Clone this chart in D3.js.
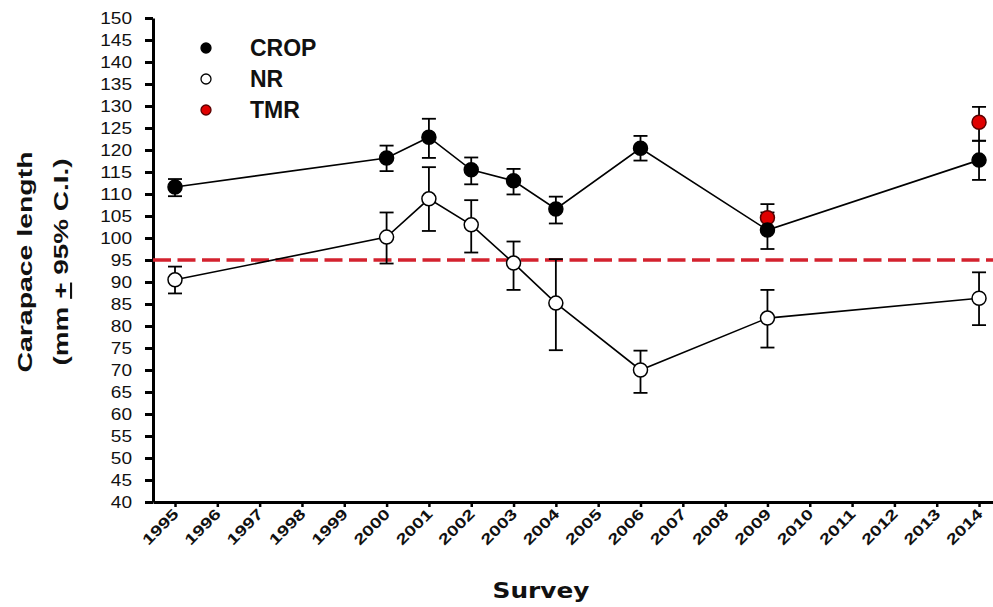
<!DOCTYPE html>
<html>
<head>
<meta charset="utf-8">
<script src="https://cdn.jsdelivr.net/npm/d3@7"></script>
<style>
  html, body { margin: 0; padding: 0; background: #fff; }
  svg { display: block; }
  text { font-family: "Liberation Sans", Arial, sans-serif; fill: #111; }
</style>
</head>
<body>
<svg id="chart" width="993" height="607"></svg>
<script>
// Survey years shown on the x axis
const tickYears = d3.range(1995, 2015);
const yTicks = d3.range(40, 151, 5);

// Mean carapace length with 95% confidence limits
const years    = [1995, 2000, 2001, 2002, 2003, 2004, 2006, 2009, 2014];
const cropMean = [111.6, 118.2, 122.9, 115.5, 113.0, 106.6, 120.4, 101.8, 117.7];
const cropLo   = [109.5, 115.2, 118.2, 112.2, 109.9, 103.3, 117.6, 97.5, 113.2];
const cropHi   = [113.4, 121.0, 127.1, 118.3, 115.7, 109.4, 123.2, 105.8, 122.1];
const nrMean   = [90.5, 100.2, 108.9, 103.0, 94.3, 85.2, 70.0, 81.8, 86.3];
const nrLo     = [87.4, 94.2, 101.6, 96.7, 88.2, 74.5, 64.8, 75.1, 80.2];
const nrHi     = [93.5, 105.8, 116.1, 108.6, 99.2, 95.2, 74.4, 88.2, 92.2];
const tmrYears = [2009, 2014];
const tmrMean  = [104.6, 126.3];
const tmrLo    = [101.5, 122.1];
const tmrHi    = [107.7, 129.8];
const threshold = 95;

const seriesNames = ["CROP", "NR", "TMR"];

const svg = d3.select("#chart");

const x = d3.scaleLinear().domain([1994.48, 2014.33]).range([153, 993]);
const y = d3.scaleLinear().domain([40, 150]).range([502, 18]);

function rows(ys, m, lo, hi) {
  return ys.map((yr, i) => ({ year: yr, mean: m[i], lo: lo[i], hi: hi[i] }));
}
const crop = rows(years, cropMean, cropLo, cropHi);
const nr = rows(years, nrMean, nrLo, nrHi);
const tmr = rows(tmrYears, tmrMean, tmrLo, tmrHi);

// Axes
const yAxis = svg.append("g")
  .attr("transform", `translate(${x.range()[0]},0)`)
  .call(d3.axisLeft(y).tickValues(yTicks).tickSize(8).tickSizeOuter(0).tickPadding(13));
yAxis.select(".domain").attr("stroke", "#000").attr("stroke-width", 3);
yAxis.selectAll(".tick line").attr("stroke", "#000").attr("stroke-width", 3);
yAxis.selectAll(".tick text")
  .attr("font-size", 17)
  .attr("font-family", '"Liberation Sans", Arial, sans-serif')
  .attr("fill", "#222")
  .attr("textLength", d => String(d).length * 10.6)
  .attr("lengthAdjust", "spacingAndGlyphs");

const xAxis = svg.append("g")
  .attr("transform", `translate(0,${y.range()[0]})`)
  .call(d3.axisBottom(x).tickValues(tickYears).tickFormat(d3.format("d")).tickSize(5).tickSizeOuter(0));
xAxis.select(".domain").attr("stroke", "#000").attr("stroke-width", 3);
xAxis.selectAll(".tick line").attr("stroke", "#000").attr("stroke-width", 2.5);
xAxis.selectAll(".tick text")
  .attr("font-size", 15)
  .attr("font-weight", "bold")
  .attr("font-family", '"Liberation Sans", Arial, sans-serif')
  .attr("fill", "#333")
  .attr("text-anchor", "end")
  .attr("dy", null)
  .attr("x", 0)
  .attr("y", 0)
  .attr("transform", "translate(4,13) rotate(-45)")
  .attr("textLength", 44)
  .attr("lengthAdjust", "spacingAndGlyphs");

// Reference line at the size threshold
svg.append("line")
  .attr("x1", x.range()[0]).attr("x2", x.range()[1])
  .attr("y1", y(threshold)).attr("y2", y(threshold))
  .attr("stroke", "#d3222e")
  .attr("stroke-width", 3.5)
  .attr("stroke-dasharray", "18,6.5");

// Connecting lines
const line = d3.line().x(d => x(d.year)).y(d => y(d.mean));
[nr, crop].forEach(s => {
  svg.append("path").datum(s)
    .attr("d", line)
    .attr("fill", "none")
    .attr("stroke", "#000")
    .attr("stroke-width", 1.6);
});

// Error bars
function errorBars(data) {
  const g = svg.append("g").attr("stroke", "#000").attr("stroke-width", 1.8);
  const capW = 7;
  g.selectAll("line.v").data(data).join("line")
    .attr("x1", d => x(d.year)).attr("x2", d => x(d.year))
    .attr("y1", d => y(d.lo)).attr("y2", d => y(d.hi));
  g.selectAll("line.t").data(data).join("line")
    .attr("x1", d => x(d.year) - capW).attr("x2", d => x(d.year) + capW)
    .attr("y1", d => y(d.hi)).attr("y2", d => y(d.hi));
  g.selectAll("line.b").data(data).join("line")
    .attr("x1", d => x(d.year) - capW).attr("x2", d => x(d.year) + capW)
    .attr("y1", d => y(d.lo)).attr("y2", d => y(d.lo));
}
errorBars(nr);
errorBars(tmr);
errorBars(crop);

// Markers
const styles = {
  CROP: { fill: "#000", stroke: "#000" },
  NR:   { fill: "#fff", stroke: "#000" },
  TMR:  { fill: "#e00000", stroke: "#5a0000" }
};
function markers(data, name) {
  svg.append("g").selectAll("circle").data(data).join("circle")
    .attr("cx", d => x(d.year))
    .attr("cy", d => y(d.mean))
    .attr("r", 7)
    .attr("fill", styles[name].fill)
    .attr("stroke", styles[name].stroke)
    .attr("stroke-width", 1.5);
}
markers(nr, "NR");
markers(tmr, "TMR");
markers(crop, "CROP");

// Legend
const legend = svg.append("g");
seriesNames.forEach((name, i) => {
  const ly = 48 + i * 31;
  legend.append("circle")
    .attr("cx", 206).attr("cy", ly).attr("r", 5)
    .attr("fill", styles[name].fill)
    .attr("stroke", styles[name].stroke)
    .attr("stroke-width", 1.3);
  legend.append("text")
    .attr("x", 250).attr("y", ly)
    .attr("dy", "0.36em")
    .attr("font-size", 23)
    .attr("font-weight", "bold")
    .attr("fill", "#222")
    .text(name);
});

// Axis titles
const yTitle = svg.append("g").attr("transform", "translate(32,262) rotate(-90)");
yTitle.append("text")
  .attr("text-anchor", "middle")
  .attr("font-size", 21)
  .attr("font-weight", "bold")
  .attr("textLength", 221)
  .attr("lengthAdjust", "spacingAndGlyphs")
  .text("Carapace length");
const t2 = yTitle.append("text")
  .attr("y", 36)
  .attr("text-anchor", "middle")
  .attr("font-size", 21)
  .attr("font-weight", "bold")
  .attr("textLength", 207)
  .attr("lengthAdjust", "spacingAndGlyphs");
t2.append("tspan").text("(mm ");
t2.append("tspan").attr("text-decoration", "underline").text("+");
t2.append("tspan").text(" 95% C.I.)");

svg.append("text")
  .attr("x", 541).attr("y", 598)
  .attr("text-anchor", "middle")
  .attr("font-size", 22)
  .attr("font-weight", "bold")
  .attr("textLength", 97)
  .attr("lengthAdjust", "spacingAndGlyphs")
  .style("font-family", '"DejaVu Sans", Verdana, sans-serif')
  .text("Survey");
</script>
</body>
</html>
